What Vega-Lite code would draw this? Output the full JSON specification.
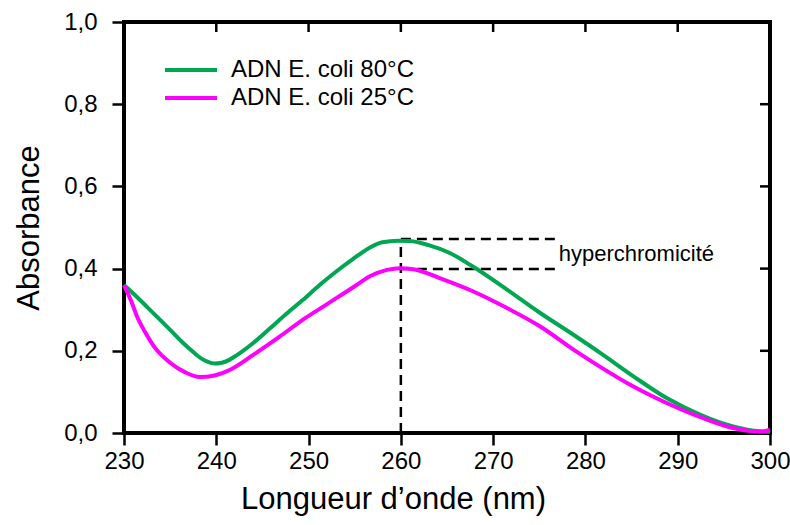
{
  "$schema": "https://vega.github.io/schema/vega-lite/v6.json",
  "autosize": "none",
  "width": 646,
  "height": 411,
  "padding": {"left": 124, "top": 22, "right": 20, "bottom": 92},
  "background": "white",
  "config": {
    "view": {"stroke": "black", "strokeWidth": 4},
    "font": "Liberation Sans"
  },
  "datasets": {
    "spectra": [
      {"nm": 230, "abs": 0.36, "s": "ADN E. coli 80°C"},
      {"nm": 231.4, "abs": 0.331, "s": "ADN E. coli 80°C"},
      {"nm": 233.2, "abs": 0.291, "s": "ADN E. coli 80°C"},
      {"nm": 235, "abs": 0.251, "s": "ADN E. coli 80°C"},
      {"nm": 236.5, "abs": 0.217, "s": "ADN E. coli 80°C"},
      {"nm": 237.5, "abs": 0.197, "s": "ADN E. coli 80°C"},
      {"nm": 238.4, "abs": 0.181, "s": "ADN E. coli 80°C"},
      {"nm": 239.1, "abs": 0.173, "s": "ADN E. coli 80°C"},
      {"nm": 239.8, "abs": 0.169, "s": "ADN E. coli 80°C"},
      {"nm": 240.6, "abs": 0.171, "s": "ADN E. coli 80°C"},
      {"nm": 241.4, "abs": 0.178, "s": "ADN E. coli 80°C"},
      {"nm": 242.2, "abs": 0.189, "s": "ADN E. coli 80°C"},
      {"nm": 244, "abs": 0.219, "s": "ADN E. coli 80°C"},
      {"nm": 245.8, "abs": 0.254, "s": "ADN E. coli 80°C"},
      {"nm": 247.6, "abs": 0.29, "s": "ADN E. coli 80°C"},
      {"nm": 249.4, "abs": 0.324, "s": "ADN E. coli 80°C"},
      {"nm": 251.2, "abs": 0.36, "s": "ADN E. coli 80°C"},
      {"nm": 253, "abs": 0.393, "s": "ADN E. coli 80°C"},
      {"nm": 254.8, "abs": 0.423, "s": "ADN E. coli 80°C"},
      {"nm": 256.7, "abs": 0.452, "s": "ADN E. coli 80°C"},
      {"nm": 258, "abs": 0.464, "s": "ADN E. coli 80°C"},
      {"nm": 259.7, "abs": 0.468, "s": "ADN E. coli 80°C"},
      {"nm": 261, "abs": 0.467, "s": "ADN E. coli 80°C"},
      {"nm": 263, "abs": 0.457, "s": "ADN E. coli 80°C"},
      {"nm": 265.3, "abs": 0.438, "s": "ADN E. coli 80°C"},
      {"nm": 267.8, "abs": 0.405, "s": "ADN E. coli 80°C"},
      {"nm": 271.5, "abs": 0.349, "s": "ADN E. coli 80°C"},
      {"nm": 275.1, "abs": 0.292, "s": "ADN E. coli 80°C"},
      {"nm": 278.7, "abs": 0.239, "s": "ADN E. coli 80°C"},
      {"nm": 281.6, "abs": 0.195, "s": "ADN E. coli 80°C"},
      {"nm": 285.2, "abs": 0.138, "s": "ADN E. coli 80°C"},
      {"nm": 288.8, "abs": 0.085, "s": "ADN E. coli 80°C"},
      {"nm": 292.4, "abs": 0.045, "s": "ADN E. coli 80°C"},
      {"nm": 296, "abs": 0.016, "s": "ADN E. coli 80°C"},
      {"nm": 298.9, "abs": 0.004, "s": "ADN E. coli 80°C"},
      {"nm": 300, "abs": 0.003, "s": "ADN E. coli 80°C"},
      {"nm": 230, "abs": 0.36, "s": "ADN E. coli 25°C"},
      {"nm": 230.8, "abs": 0.32, "s": "ADN E. coli 25°C"},
      {"nm": 231.4, "abs": 0.284, "s": "ADN E. coli 25°C"},
      {"nm": 232.3, "abs": 0.245, "s": "ADN E. coli 25°C"},
      {"nm": 233.2, "abs": 0.212, "s": "ADN E. coli 25°C"},
      {"nm": 235, "abs": 0.171, "s": "ADN E. coli 25°C"},
      {"nm": 236.6, "abs": 0.148, "s": "ADN E. coli 25°C"},
      {"nm": 238.2, "abs": 0.136, "s": "ADN E. coli 25°C"},
      {"nm": 239.8, "abs": 0.14, "s": "ADN E. coli 25°C"},
      {"nm": 241.5, "abs": 0.154, "s": "ADN E. coli 25°C"},
      {"nm": 244, "abs": 0.19, "s": "ADN E. coli 25°C"},
      {"nm": 246.9, "abs": 0.235, "s": "ADN E. coli 25°C"},
      {"nm": 249.4, "abs": 0.276, "s": "ADN E. coli 25°C"},
      {"nm": 251.2, "abs": 0.302, "s": "ADN E. coli 25°C"},
      {"nm": 253, "abs": 0.328, "s": "ADN E. coli 25°C"},
      {"nm": 255, "abs": 0.357, "s": "ADN E. coli 25°C"},
      {"nm": 256.7, "abs": 0.382, "s": "ADN E. coli 25°C"},
      {"nm": 258.5, "abs": 0.397, "s": "ADN E. coli 25°C"},
      {"nm": 259.9, "abs": 0.401, "s": "ADN E. coli 25°C"},
      {"nm": 261.5, "abs": 0.398, "s": "ADN E. coli 25°C"},
      {"nm": 264.2, "abs": 0.377, "s": "ADN E. coli 25°C"},
      {"nm": 267.8, "abs": 0.345, "s": "ADN E. coli 25°C"},
      {"nm": 271.5, "abs": 0.304, "s": "ADN E. coli 25°C"},
      {"nm": 275.1, "abs": 0.259, "s": "ADN E. coli 25°C"},
      {"nm": 278.7, "abs": 0.203, "s": "ADN E. coli 25°C"},
      {"nm": 281.6, "abs": 0.161, "s": "ADN E. coli 25°C"},
      {"nm": 285.2, "abs": 0.113, "s": "ADN E. coli 25°C"},
      {"nm": 288.8, "abs": 0.073, "s": "ADN E. coli 25°C"},
      {"nm": 292.4, "abs": 0.039, "s": "ADN E. coli 25°C"},
      {"nm": 296, "abs": 0.012, "s": "ADN E. coli 25°C"},
      {"nm": 298.9, "abs": 0.003, "s": "ADN E. coli 25°C"},
      {"nm": 300, "abs": 0.008, "s": "ADN E. coli 25°C"}
    ],
    "guides": [
      {"x": 260, "x2": 260, "y": 0, "y2": 0.472},
      {"x": 260, "x2": 277, "y": 0.472, "y2": 0.472},
      {"x": 260, "x2": 277, "y": 0.399, "y2": 0.399}
    ],
    "note": [
      {"x": 277, "y": 0.436, "label": "hyperchromicité"}
    ]
  },
  "layer": [
    {
      "data": {"name": "guides"},
      "mark": {"type": "rule", "color": "black", "strokeWidth": 2.5, "strokeDash": [10, 6]},
      "encoding": {
        "x": {"field": "x", "type": "quantitative", "scale": {"domain": [230, 300]}},
        "x2": {"field": "x2"},
        "y": {"field": "y", "type": "quantitative", "scale": {"domain": [0, 1]}},
        "y2": {"field": "y2"}
      }
    },
    {
      "data": {"name": "note"},
      "mark": {"type": "text", "align": "left", "baseline": "middle", "fontSize": 22, "dx": 1, "color": "black"},
      "encoding": {
        "x": {"field": "x", "type": "quantitative"},
        "y": {"field": "y", "type": "quantitative"},
        "text": {"field": "label"}
      }
    },
    {
      "data": {"name": "spectra"},
      "mark": {"type": "line", "interpolate": "monotone", "strokeWidth": 4},
      "encoding": {
        "x": {
          "field": "nm", "type": "quantitative",
          "scale": {"domain": [230, 300], "nice": false, "zero": false},
          "axis": {
            "title": "Longueur d’onde (nm)",
            "values": [230, 240, 250, 260, 270, 280, 290, 300],
            "domain": false, "grid": false, "labelFlush": false,
            "tickSize": 12, "tickWidth": 2.5, "tickColor": "black",
            "labelFontSize": 24, "labelColor": "black", "labelPadding": 4,
            "titleFontSize": 31, "titleFontWeight": "normal", "titleColor": "black",
            "titlePadding": 11, "titleX": 269
          }
        },
        "y": {
          "field": "abs", "type": "quantitative",
          "scale": {"domain": [0, 1], "nice": false},
          "axis": {
            "title": "Absorbance",
            "values": [0, 0.2, 0.4, 0.6, 0.8, 1.0],
            "labelExpr": "replace(format(datum.value, '.1f'), '.', ',')",
            "domain": false, "grid": false, "labelFlush": false,
            "tickSize": 12, "tickWidth": 2.5, "tickColor": "black",
            "labelFontSize": 24, "labelColor": "black", "labelPadding": 15,
            "titleFontSize": 31, "titleFontWeight": "normal", "titleColor": "black",
            "titlePadding": 18
          }
        },
        "color": {
          "field": "s", "type": "nominal",
          "scale": {"domain": ["ADN E. coli 80°C", "ADN E. coli 25°C"], "range": ["#00A651", "#FF00FF"]},
          "legend": {
            "title": null, "orient": "none", "legendX": 39, "legendY": 34,
            "symbolType": "stroke", "symbolSize": 2704, "symbolStrokeWidth": 4,
            "clipHeight": 28, "rowPadding": 0, "padding": 0,
            "labelFontSize": 24, "labelColor": "black", "labelOffset": 12, "labelLimit": 400
          }
        }
      }
    },
    {
      "data": {"values": [{"v": 240}, {"v": 250}, {"v": 260}, {"v": 270}, {"v": 280}, {"v": 290}]},
      "mark": {"type": "rule", "color": "black", "strokeWidth": 2.5},
      "encoding": {
        "x": {"field": "v", "type": "quantitative"},
        "y": {"value": 0},
        "y2": {"value": 10}
      }
    },
    {
      "data": {"values": [{"v": 0.2}, {"v": 0.4}, {"v": 0.6}, {"v": 0.8}]},
      "mark": {"type": "rule", "color": "black", "strokeWidth": 2.5},
      "encoding": {
        "y": {"field": "v", "type": "quantitative"},
        "x": {"value": 636},
        "x2": {"value": 646}
      }
    }
  ]
}
